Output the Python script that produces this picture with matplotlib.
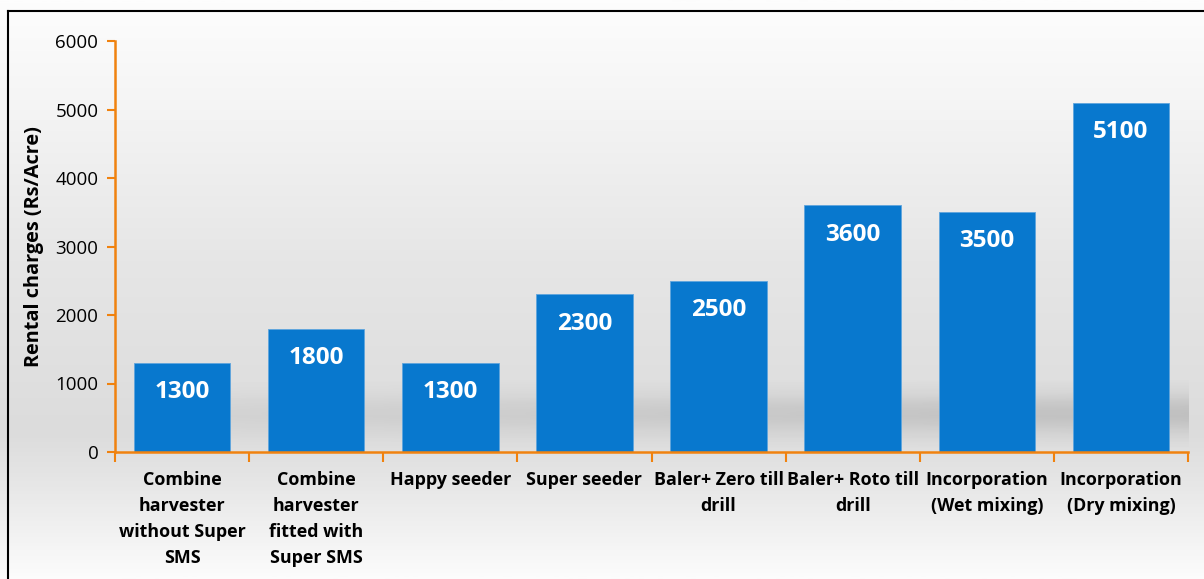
import numpy as np
import matplotlib.pyplot as plt
from matplotlib.lines import Line2D
from matplotlib.colors import LinearSegmentedColormap

plt.rcParams['font.family'] = ['Open Sans', 'DejaVu Sans']

categories = ['Combine\nharvester\nwithout Super\nSMS', 'Combine\nharvester\nfitted with\nSuper SMS',
              'Happy seeder', 'Super seeder', 'Baler+ Zero till\ndrill', 'Baler+ Roto till\ndrill',
              'Incorporation\n(Wet mixing)', 'Incorporation\n(Dry mixing)']
charges = [1300, 1800, 1300, 2300, 2500, 3600, 3500, 5100]
y_ticks = [0, 1000, 2000, 3000, 4000, 5000, 6000]

orange = '#F0820F'
blue = '#0878CE'

fig = plt.figure(figsize=(12.04, 5.79), dpi=100)

# background gradient over the whole figure
bg = fig.add_axes([0, 0, 1, 1], zorder=-10)
bg_cmap = LinearSegmentedColormap.from_list('bg', [
    (0.0, '#fdfdfd'), (0.15, '#f6f6f6'), (0.45, '#e6e6e6'),
    (0.75, '#dcdcdc'), (0.85, '#e8e8e8'), (1.0, '#fcfcfc')])
bg.imshow(np.linspace(0, 1, 300).reshape(-1, 1), aspect='auto', cmap=bg_cmap,
          extent=[0, 1, 0, 1], origin='upper')
bg.axis('off')

ax = fig.add_axes([115 / 1204, 1 - 452 / 579, (1188 - 115) / 1204, (452 - 41) / 579])
ax.patch.set_alpha(0)

x = np.arange(len(categories))

# soft floor shadow behind bars
shade = np.zeros((60, 200, 4))
vert = np.exp(-((np.linspace(0, 1, 60) - 0.5) / 0.3) ** 2)
horiz = np.linspace(0.3, 1.0, 200)
shade[..., 3] = 0.13 * vert[:, None] * horiz[None, :]
ax.imshow(shade, aspect='auto', extent=[-0.1, 7.5, 80, 1050], origin='upper', zorder=0.5)

ax.bar(x, charges, width=0.72, color=blue, edgecolor='#5fa5dd', linewidth=0.6, zorder=2)
for xi, v in zip(x, charges):
    ax.annotate(str(v), (xi, v), xytext=(0, -21), textcoords='offset points', ha='center', va='center',
                color='white', fontsize=17.5, fontweight='bold', zorder=3)

ax.set_xlim(-0.5, len(categories) - 0.5)
ax.set_ylim(0, 6000)
ax.set_yticks(y_ticks)
ax.set_xticks(np.arange(len(categories) + 1) - 0.5)
ax.set_xticklabels([])
ax.set_xticks(x, minor=True)
ax.set_xticklabels(categories, minor=True, fontsize=12.9, fontweight='bold', linespacing=1.55)
ax.tick_params(axis='x', which='major', direction='out', length=7, width=1.5, color=orange)
ax.tick_params(axis='x', which='minor', direction='in', length=4, width=1.5, color=orange, pad=14)
ax.tick_params(axis='y', direction='out', length=6, width=1.5, color=orange, labelsize=13.5, pad=6)

for side in ['top', 'right']:
    ax.spines[side].set_visible(False)
for side in ['left', 'bottom']:
    ax.spines[side].set_color(orange)
    ax.spines[side].set_linewidth(1.8)

ax.set_ylabel('Rental charges (Rs/Acre)', fontsize=14.3, fontweight='bold', labelpad=8)

# outer border (left and top visible)
fig.add_artist(Line2D([8 / 1204, 8 / 1204], [0, 1 - 11 / 579], color='black', linewidth=1.5))
fig.add_artist(Line2D([8 / 1204, 1], [1 - 11 / 579, 1 - 11 / 579], color='black', linewidth=1.5))

fig.savefig('out.png', dpi=100)
